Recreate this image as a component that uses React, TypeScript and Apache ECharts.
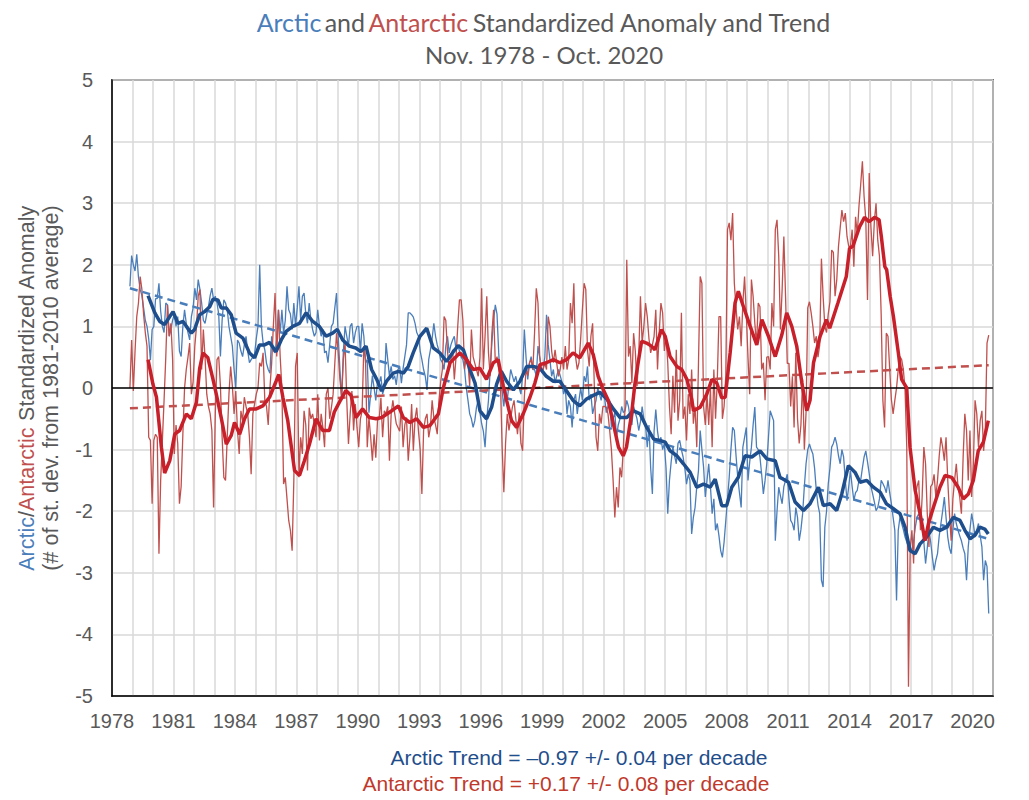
import React, { useEffect, useRef } from "react";
import * as echarts from "echarts";

// Monthly values start in Nov 1978 and end in Oct 2020
const START_YEAR = 1978;
const START_MONTH = 10; // November (0-based)

const arcticMonthly: number[] = [
  1.65, 2.15, // 1978 Nov-Dec
  2.0, 1.9, 2.17, 1.8, 1.6, 1.5, 1.3, 1.1, 1.0, 0.8, 0.45, 0.95, // 1979
  1.0, 1.45, 1.45, 1.7, 1.25, 1.0, 0.9, 1.38, 1.35, 0.84, 0.95, 1.1, // 1980
  1.2, 1.0, 1.16, 0.6, 0.51, 1.0, 1.27, 1.05, 0.9, 0.78, 1.16, 1.3, // 1981
  1.62, 1.43, 1.76, 1.6, 1.38, 1.1, 1.05, 1.2, 1.32, 1.5, 1.62, 1.43, // 1982
  1.49, 1.38, 1.2, 0.51, 1.1, 1.43, 1.38, 1.27, 1.0, 0.84, 0.68, 0.3, // 1983
  0.0, 0.78, 0.73, 0.6, 0.51, 0.7, 0.84, 0.6, 0.41, 0.46, 0.5, 0.55, // 1984
  0.8, 1.0, 2.0, 1.0, 0.73, 0.62, 0.4, 0.3, 0.24, 0.84, 0.6, 0.57, // 1985
  0.8, 1.27, 0.89, 1.27, 0.89, 1.1, 1.65, 1.27, 1.2, 0.95, 1.38, 1.0, // 1986
  1.3, 1.65, 1.1, 1.49, 1.54, 1.2, 1.05, 1.38, 1.1, 0.95, 0.84, 0.9, // 1987
  1.27, 1.0, 0.84, 0.95, 0.57, 0.6, 0.41, 0.7, 1.0, 1.05, 1.3, 1.54, // 1988
  0.84, 0.3, -0.2, 0.6, 1.0, 0.84, 0.68, 1.0, 1.05, 0.73, 0.9, 1.0, // 1989
  1.0, 0.57, 1.05, 0.84, 0.41, 0.46, -0.4, -0.1, 0.2, 0.0, -0.2, 0.1, // 1990
  0.08, 0.19, -0.1, 0.0, 0.73, 0.46, 0.19, 0.35, 0.14, 0.2, 0.05, 0.3, // 1991
  0.35, 0.08, 0.32, 0.51, 0.7, 1.22, 1.22, 1.19, 1.15, 1.05, 0.9, 0.84, // 1992
  0.6, 0.46, 0.3, 0.19, -0.03, 0.46, 0.62, 0.8, 1.05, 0.84, 0.7, 0.6, // 1993
  0.46, 0.41, 0.3, 0.68, 0.84, 0.57, 0.7, 0.78, 0.84, 0.62, 0.7, 0.6, // 1994
  0.5, 0.46, 0.3, 0.0, -0.2, -0.42, -0.5, -0.64, -0.53, -0.31, -0.2, -0.4, // 1995
  -0.58, -0.7, -0.96, -0.5, -0.2, 0.3, 0.73, 1.1, 1.35, 1.2, 0.57, 0.1, // 1996
  -0.04, -0.3, 0.0, -0.2, 0.06, 0.3, 0.2, 0.1, 0.19, 0.05, 0.0, -0.1, // 1997
  0.2, 0.95, 0.5, 0.14, 0.4, 0.51, 0.3, 0.3, 0.19, 0.68, 0.5, 0.3, // 1998
  0.3, 0.5, 1.19, 0.7, 0.46, 0.19, 0.3, 0.08, 0.2, 0.3, 0.2, 0.1, // 1999
  -0.1, 0.0, -0.42, -0.2, -0.3, -0.64, -0.2, -0.1, -0.42, -0.2, 0.0, -0.2, // 2000
  0.19, 0.1, 0.35, -0.2, -0.1, -0.42, -0.3, -0.2, 0.0, -0.1, -0.2, 0.0, // 2001
  -0.15, -0.4, -0.3, -0.2, -0.64, -0.5, -0.4, -0.8, -0.6, -0.5, -0.3, -0.4, // 2002
  -0.37, -0.2, -0.3, -0.5, -0.6, -0.3, -0.4, -0.5, -0.69, -0.55, -0.3, -0.5, // 2003
  -0.6, -0.96, -0.6, -1.3, -1.72, -0.7, -0.35, -0.7, -0.9, -0.8, -1.0, -0.9, // 2004
  -1.3, -2.04, -1.5, -1.2, -0.96, -1.1, -1.23, -0.9, -0.85, -1.0, -1.12, -1.3, // 2005
  -1.56, -1.4, -1.5, -2.37, -2.1, -1.94, -1.6, -1.34, -0.69, -1.0, -1.29, -1.77, // 2006
  -1.5, -1.23, -1.6, -2.04, -1.8, -2.31, -2.2, -2.4, -2.64, -2.75, -2.5, -2.15, // 2007
  -1.8, -1.45, -1.0, -0.64, -0.69, -1.1, -1.45, -1.7, -1.94, -0.96, -0.8, -0.64, // 2008
  -1.5, -1.2, -0.96, -0.6, -0.31, -0.96, -1.0, -1.12, -1.4, -1.72, -1.5, -1.23, // 2009
  -0.8, -0.37, -0.45, -0.53, -2.48, -2.0, -1.61, -1.75, -1.88, -1.6, -1.5, -1.4, // 2010
  -1.8, -2.15, -2.2, -2.31, -1.94, -2.1, -2.48, -2.3, -2.04, -1.6, -1.23, -1.0, // 2011
  -0.91, -1.0, -1.07, -1.3, -1.66, -1.9, -2.04, -3.12, -3.23, -2.26, -2.0, -1.56, // 2012
  -1.3, -0.96, -0.9, -0.8, -0.91, -1.1, -1.23, -1.0, -1.12, -1.5, -1.83, -1.6, // 2013
  -1.34, -1.6, -1.83, -1.7, -1.66, -1.5, -1.5, -1.3, -1.12, -1.02, -1.2, -1.39, // 2014
  -1.6, -1.72, -1.85, -1.99, -1.94, -1.8, -1.5, -1.55, -1.61, -1.7, -1.5, -1.7, // 2015
  -1.88, -2.1, -2.31, -3.45, -2.31, -2.1, -2.2, -2.3, -2.42, -2.5, -2.58, -2.6, // 2016
  -2.64, -2.48, -2.26, -2.1, -2.04, -2.15, -2.26, -2.5, -2.85, -2.6, -2.31, -2.5, // 2017
  -2.75, -2.96, -2.8, -2.69, -2.4, -2.2, -2.0, -1.77, -2.1, -2.42, -2.6, -2.69, // 2018
  -2.3, -2.04, -2.2, -2.31, -2.4, -2.48, -2.6, -2.69, -3.12, -2.58, -2.3, -2.04, // 2019
  -2.2, -2.42, -2.3, -2.2, -2.4, -2.58, -3.12, -2.8, -2.9, -3.66, // 2020 Jan-Oct
];

const antarcticMonthly: number[] = [
  0.0, 0.78, // 1978 Nov-Dec
  -0.05, 0.6, 1.16, 1.38, 1.81, 1.6, 1.2, 0.9, 0.68, -0.8, -0.85, -1.88, // 1979
  -0.85, -0.75, -0.8, -2.69, -1.5, -0.85, -0.2, 0.5, 1.35, 0.84, 1.05, 0.46, // 1980
  -1.07, -0.6, -0.9, -1.88, -1.6, -0.75, 0.0, 0.3, 0.5, 0.73, -0.1, 0.1, // 1981
  0.68, 1.0, 1.49, 1.6, 0.3, 0.95, 0.5, -0.1, -0.3, -0.42, -0.69, -1.94, // 1982
  -0.42, 0.46, 0.51, 0.03, -0.8, -1.45, -1.5, -0.8, -0.1, 0.35, 0.03, -0.42, // 1983
  -0.05, -0.69, -1.07, -0.37, -0.53, -0.15, -0.3, -0.42, -0.8, -1.4, -0.42, -0.26, // 1984
  -0.1, 0.0, 0.41, 0.35, 0.57, -0.2, -0.3, -0.6, 0.0, 0.4, 1.0, 1.54, // 1985
  0.51, 1.27, 0.51, 0.0, -1.56, -1.45, -1.8, -2.15, -2.31, -2.64, -1.5, 0.35, // 1986
  0.57, -1.45, -0.8, -1.07, -0.37, -0.6, -1.34, -0.32, -0.5, -0.42, -0.6, -0.8, // 1987
  -0.1, -0.85, -0.42, -0.64, -0.96, -0.1, 0.0, -0.5, -0.32, -0.1, 0.4, 0.89, // 1988
  0.57, 0.14, -0.15, 0.46, 0.73, -0.2, -0.91, -0.42, -0.05, -0.69, -0.26, -0.64, // 1989
  -0.96, -0.5, -0.37, 0.68, 0.46, -0.96, -0.48, -0.8, -1.18, -0.75, -1.13, -0.53, // 1990
  -0.5, -0.16, -0.8, -0.37, -0.42, -0.3, -1.18, -0.42, -0.2, -0.4, -0.58, -0.64, // 1991
  -0.7, -0.3, -0.96, -0.6, -0.48, -1.18, -0.8, -0.26, -1.02, -0.5, -0.32, -0.7, // 1992
  -1.0, -1.72, -0.69, -0.5, -0.42, -0.8, -0.64, -0.2, -0.48, -0.6, -0.75, -0.2, // 1993
  0.1, 0.3, 1.16, 1.1, 0.6, 0.3, 0.46, 0.62, 0.14, 0.5, 1.0, 1.43, // 1994
  1.43, 1.1, 0.3, 0.51, 0.4, 0.03, 0.95, 0.51, 0.4, 0.3, 0.19, 0.5, // 1995
  1.62, 0.3, 0.84, 1.49, 0.57, 0.19, 0.89, 1.27, 0.41, 0.51, 0.3, 0.1, // 1996
  -0.96, -1.69, -0.9, -0.42, -0.69, -0.5, -0.31, -0.2, -0.5, -0.75, -0.4, -0.9, // 1997
  -1.02, -0.15, 0.3, 0.2, 0.41, 0.46, 0.3, 0.9, 1.62, 1.38, 0.51, 0.3, // 1998
  0.3, 0.41, 0.3, 1.16, 1.0, 0.6, 0.41, 0.62, 0.4, 0.19, 0.3, 0.5, // 1999
  0.3, 0.68, 0.3, 0.46, 1.38, 1.05, 1.7, 0.51, 0.3, 0.41, 0.8, 1.27, // 2000
  1.7, 1.6, 0.62, 0.35, 0.84, 1.05, 0.03, -0.8, -1.02, -0.42, -0.58, -0.3, // 2001
  -0.3, -0.31, -0.42, -0.69, -1.0, -1.5, -2.1, -1.61, -1.94, -1.29, -1.45, -0.96, // 2002
  -0.31, 2.08, 0.51, 0.68, 0.08, 0.89, 0.6, 0.03, 0.5, 1.49, 0.73, 1.0, // 2003
  1.38, 1.16, 0.8, 0.57, 0.7, 0.84, 1.27, 0.3, 0.9, 1.38, 1.22, 0.6, // 2004
  0.84, 0.41, -0.3, -0.75, 0.2, -0.4, 0.62, -0.53, -0.2, 1.22, -0.5, -0.3, // 2005
  -0.85, -0.1, -0.42, 0.3, -0.58, -0.3, -0.96, 0.4, 1.81, 1.7, -0.3, -0.6, // 2006
  -0.1, -0.6, 0.0, -0.96, 0.3, -0.5, 0.1, 1.16, 1.16, -0.5, -0.3, 0.2, // 2007
  2.57, 2.68, 2.4, 2.84, 1.7, 1.3, 0.95, 1.16, 0.68, 1.38, 1.81, 1.2, // 2008
  0.5, -0.1, 1.76, 1.49, 1.05, 0.7, 1.38, 1.32, 0.3, 0.41, -0.2, 0.5, // 2009
  0.51, 0.3, 1.38, 1.0, 2.57, 2.73, 2.14, 0.95, 1.6, 2.46, 1.49, 0.4, // 2010
  0.4, -0.3, 0.19, -0.64, 0.57, -0.5, -0.9, -0.6, 0.14, -1.0, -0.4, 1.3, // 2011
  1.4, 1.22, 1.0, 0.73, 0.84, 0.5, 0.7, 2.1, 1.49, 1.0, 0.9, 1.2, // 2012
  1.4, 2.24, 2.2, 1.49, 1.76, 2.3, 2.6, 2.89, 2.7, 2.84, 2.46, 2.3, // 2013
  2.3, 2.57, 1.97, 2.78, 2.5, 2.95, 3.3, 3.68, 3.11, 2.73, 1.43, 3.49, // 2014
  2.62, 2.14, 2.7, 3.0, 2.4, 2.14, 1.2, -0.2, -0.64, 0.89, 0.84, 0.3, // 2015
  -0.19, -0.42, -0.2, 0.0, 0.3, 0.51, 0.46, 0.3, -0.04, -0.96, -4.85, -2.6, // 2016
  -2.31, -2.85, -1.77, -1.6, -1.5, -2.31, -1.77, -0.96, -1.23, -2.04, -2.58, -1.6, // 2017
  -1.56, -1.4, -1.77, -1.5, -1.1, -0.8, -0.96, -1.18, -0.8, -1.5, -2.04, -2.48, // 2018
  -1.8, -1.5, -1.23, -1.6, -1.77, -2.04, -1.13, -0.42, -0.69, -1.5, -0.69, -1.77, // 2019
  -1.23, -0.2, -0.42, -0.96, -0.53, -0.37, -1.02, -0.69, 0.73, 0.86, // 2020 Jan-Oct
];

// 12-month running means, [decimal year, value]
const arcticMean: [number, number][] = [
  [1979.76, 1.5], [1980.09, 1.22], [1980.33, 1.08], [1980.57, 1.03], [1980.82, 1.16], [1980.98, 1.24],
  [1981.22, 1.05], [1981.47, 1.08], [1981.63, 1.0], [1981.87, 0.89], [1982.03, 0.95], [1982.28, 1.19],
  [1982.52, 1.24], [1982.77, 1.32], [1982.93, 1.44], [1983.17, 1.43], [1983.33, 1.3], [1983.58, 1.3],
  [1983.82, 1.19], [1984.06, 0.89], [1984.39, 0.81], [1984.71, 0.57], [1984.96, 0.49], [1985.2, 0.7],
  [1985.44, 0.7], [1985.69, 0.74], [1986.01, 0.59], [1986.26, 0.78], [1986.5, 0.92], [1986.82, 1.0],
  [1987.15, 1.05], [1987.47, 1.22], [1987.8, 1.08], [1988.12, 1.0], [1988.45, 0.84], [1988.77, 0.89],
  [1989.0, 0.95], [1989.26, 0.78], [1989.58, 0.68], [1989.9, 0.65], [1990.15, 0.59], [1990.4, 0.68],
  [1990.67, 0.3], [1990.92, 0.14], [1991.16, -0.05], [1991.4, 0.11], [1991.73, 0.24], [1991.98, 0.27],
  [1992.22, 0.24], [1992.46, 0.35], [1992.7, 0.57], [1993.03, 0.84], [1993.36, 0.97], [1993.68, 0.65],
  [1994.0, 0.57], [1994.33, 0.43], [1994.66, 0.59], [1994.9, 0.69], [1995.15, 0.62], [1995.47, 0.3],
  [1995.72, 0.08], [1995.96, -0.37], [1996.28, -0.5], [1996.53, -0.31], [1996.77, 0.06], [1997.0, 0.27],
  [1997.26, 0.11], [1997.59, -0.03], [1997.91, 0.11], [1998.24, 0.35], [1998.56, 0.35], [1998.89, 0.32],
  [1999.2, 0.19], [1999.54, 0.11], [1999.86, 0.11], [2000.19, -0.05], [2000.5, -0.2], [2000.83, -0.29],
  [2001.16, -0.18], [2001.49, -0.12], [2001.81, -0.07], [2002.15, -0.18], [2002.47, -0.34], [2002.8, -0.48],
  [2003.13, -0.48], [2003.45, -0.37], [2003.78, -0.42], [2004.1, -0.64], [2004.44, -0.83], [2004.74, -0.85],
  [2005.0, -0.88], [2005.24, -1.02], [2005.57, -1.1], [2005.89, -1.23], [2006.22, -1.37], [2006.54, -1.61],
  [2006.87, -1.56], [2007.2, -1.61], [2007.44, -1.48], [2007.76, -1.91], [2008.0, -1.91], [2008.25, -1.61],
  [2008.57, -1.45], [2008.9, -1.1], [2009.23, -1.12], [2009.63, -1.02], [2009.96, -1.15], [2010.37, -1.18],
  [2010.6, -1.45], [2011.02, -1.53], [2011.34, -1.85], [2011.75, -1.99], [2012.07, -1.88], [2012.48, -1.61],
  [2012.72, -1.91], [2013.05, -1.88], [2013.37, -1.99], [2013.62, -1.72], [2013.94, -1.26], [2014.27, -1.37],
  [2014.51, -1.53], [2014.84, -1.5], [2015.16, -1.61], [2015.49, -1.69], [2015.8, -1.88], [2016.14, -1.96],
  [2016.46, -2.04], [2016.71, -2.26], [2016.95, -2.64], [2017.2, -2.69], [2017.44, -2.53], [2017.76, -2.42],
  [2018.09, -2.26], [2018.41, -2.31], [2018.74, -2.26], [2019.06, -2.1], [2019.39, -2.15], [2019.63, -2.31],
  [2019.88, -2.45], [2020.12, -2.39], [2020.36, -2.26], [2020.6, -2.29], [2020.77, -2.37],
];

const antarcticMean: [number, number][] = [
  [1979.76, 0.46], [1980.0, 0.06], [1980.17, -0.15], [1980.41, -0.96], [1980.57, -1.38], [1980.82, -1.18],
  [1981.06, -0.75], [1981.3, -0.69], [1981.63, -0.42], [1981.87, -0.5], [1982.12, -0.23], [1982.28, 0.32],
  [1982.44, 0.57], [1982.68, 0.49], [1982.93, 0.14], [1983.09, -0.1], [1983.33, -0.48], [1983.58, -0.91],
  [1983.82, -0.77], [1983.98, -0.56], [1984.23, -0.75], [1984.47, -0.5], [1984.71, -0.34], [1985.04, -0.34],
  [1985.36, -0.29], [1985.69, -0.15], [1986.01, 0.11], [1986.14, 0.22], [1986.34, -0.15], [1986.58, -0.53],
  [1986.91, -1.34], [1987.15, -1.42], [1987.39, -1.18], [1987.64, -0.91], [1987.96, -0.5], [1988.29, -0.69],
  [1988.61, -0.69], [1988.85, -0.39], [1989.1, -0.23], [1989.42, -0.04], [1989.67, -0.12], [1989.9, -0.48],
  [1990.23, -0.34], [1990.56, -0.48], [1990.89, -0.5], [1991.16, -0.48], [1991.57, -0.39], [1991.98, -0.29],
  [1992.22, -0.48], [1992.54, -0.56], [1992.87, -0.5], [1993.2, -0.64], [1993.52, -0.61], [1993.93, -0.42],
  [1994.17, 0.0], [1994.5, 0.41], [1994.98, 0.57], [1995.31, 0.46], [1995.63, 0.3], [1995.96, 0.32],
  [1996.28, 0.14], [1996.61, 0.41], [1996.85, 0.46], [1997.1, 0.03], [1997.26, -0.2], [1997.5, -0.53],
  [1997.75, -0.64], [1998.07, -0.42], [1998.4, -0.15], [1998.64, 0.08], [1998.89, 0.38], [1999.2, 0.41],
  [1999.54, 0.46], [1999.86, 0.41], [2000.19, 0.46], [2000.5, 0.57], [2000.83, 0.49], [2001.24, 0.73],
  [2001.49, 0.54], [2001.73, 0.19], [2001.98, -0.03], [2002.22, -0.2], [2002.47, -0.58], [2002.72, -0.96],
  [2002.95, -1.1], [2003.11, -0.96], [2003.36, -0.42], [2003.52, 0.06], [2003.68, 0.41], [2003.85, 0.76],
  [2004.09, 0.73], [2004.33, 0.68], [2004.5, 0.62], [2004.82, 0.95], [2005.0, 0.84], [2005.24, 0.51],
  [2005.57, 0.35], [2005.81, 0.3], [2006.06, 0.14], [2006.3, -0.19], [2006.38, -0.37], [2006.71, -0.31],
  [2007.03, -0.1], [2007.28, 0.14], [2007.52, 0.08], [2007.76, -0.16], [2007.93, -0.15], [2008.17, 0.57],
  [2008.41, 1.38], [2008.57, 1.57], [2008.82, 1.32], [2009.15, 1.0], [2009.47, 0.7], [2009.72, 1.11],
  [2010.04, 0.84], [2010.37, 0.51], [2010.69, 0.86], [2010.93, 1.22], [2011.18, 1.0], [2011.42, 0.68],
  [2011.67, 0.08], [2011.91, -0.37], [2012.07, -0.2], [2012.24, 0.41], [2012.56, 0.84], [2012.87, 1.11],
  [2013.03, 0.97], [2013.43, 1.38], [2013.84, 1.81], [2014.0, 2.27], [2014.16, 2.3], [2014.49, 2.62],
  [2014.73, 2.77], [2014.95, 2.7], [2015.22, 2.77], [2015.44, 2.73], [2015.55, 2.46], [2015.72, 1.97],
  [2015.81, 1.92], [2015.98, 1.49], [2016.14, 1.16], [2016.38, 0.57], [2016.54, 0.14], [2016.79, 0.0],
  [2016.95, -0.96], [2017.2, -1.66], [2017.44, -2.04], [2017.68, -2.48], [2017.85, -2.2], [2018.09, -1.94],
  [2018.41, -1.61], [2018.66, -1.42], [2018.98, -1.45], [2019.3, -1.61], [2019.55, -1.8], [2019.8, -1.72],
  [2020.04, -1.5], [2020.28, -1.02], [2020.53, -0.88], [2020.77, -0.53],
];

// Linear trends, endpoints
const arcticTrend: [number, number][] = [[1978.875, 1.62], [2020.79, -2.45]];
const antarcticTrend: [number, number][] = [[1978.875, -0.33], [2020.79, 0.37]];

const X_MIN = 1978;
const X_MAX = 2021;
const X_LABEL_STEP = 3;
const Y_MIN = -5;
const Y_MAX = 5;

const titleLine2 = "Nov. 1978 - Oct. 2020";
const arcticTrendText = "Arctic Trend = \u20130.97 +/- 0.04 per decade";
const antarcticTrendText = "Antarctic Trend = +0.17 +/- 0.08 per decade";

const BLUE = "#4a7ebb";
const RED = "#c0504d";
const DARK_BLUE = "#1f4e8c";
const DARK_RED = "#c8202a";
const GRAY = "#595959";

function toPoints(vals: number[]): [number, number][] {
  return vals.map((v, i) => {
    const m = START_MONTH + i;
    return [START_YEAR + m / 12 + 1 / 24, v];
  });
}

export default function App() {
  const ref = useRef<HTMLDivElement>(null);

  useEffect(() => {
    if (!ref.current) return;
    const chart = echarts.init(ref.current, undefined, { renderer: "svg" });
    const arial = "'Liberation Sans', Arial, sans-serif";
    const titleFont = "Lato, 'Open Sans', sans-serif";

    chart.setOption({
      animation: false,
      backgroundColor: "#ffffff",
      grid: {
        left: 112,
        top: 80,
        width: 881,
        height: 616,
        show: true,
        borderColor: "#000",
        borderWidth: 1.5,
      },
      xAxis: {
        type: "value",
        min: X_MIN,
        max: X_MAX,
        interval: 1,
        axisLine: { show: true, onZero: false, lineStyle: { color: "#000", width: 1.5 } },
        axisTick: { show: false },
        splitLine: { show: true, lineStyle: { color: "#d9d9d9", width: 1.5 } },
        axisLabel: {
          fontSize: 20,
          color: GRAY,
          fontFamily: arial,
          margin: 15,
          formatter: (v: number) => {
            const y = Math.round(v);
            return (y - X_MIN) % X_LABEL_STEP === 0 ? String(y) : "";
          },
        },
      },
      yAxis: {
        type: "value",
        min: Y_MIN,
        max: Y_MAX,
        interval: 1,
        axisLine: { show: true, lineStyle: { color: "#000", width: 1.5 } },
        axisTick: { show: false },
        splitLine: { show: true, lineStyle: { color: "#d9d9d9", width: 1.5 } },
        axisLabel: { fontSize: 20, color: GRAY, fontFamily: arial, margin: 19 },
      },
      series: [
        {
          name: "Arctic monthly",
          type: "line",
          data: toPoints(arcticMonthly),
          showSymbol: false,
          symbol: "none",
          silent: true,
          lineStyle: { color: BLUE, width: 1.3 },
          z: 2,
        },
        {
          name: "Antarctic monthly",
          type: "line",
          data: toPoints(antarcticMonthly),
          showSymbol: false,
          symbol: "none",
          silent: true,
          lineStyle: { color: RED, width: 1.3 },
          z: 3,
          markLine: {
            silent: true,
            symbol: ["none", "none"],
            label: { show: false },
            lineStyle: { color: "#000", width: 1.5, type: "solid" },
            data: [{ yAxis: 0 }],
          },
        },
        {
          name: "Arctic trend",
          type: "line",
          data: arcticTrend,
          showSymbol: false,
          symbol: "none",
          silent: true,
          lineStyle: { color: BLUE, width: 2.5, type: [8, 5] },
          z: 4,
        },
        {
          name: "Antarctic trend",
          type: "line",
          data: antarcticTrend,
          showSymbol: false,
          symbol: "none",
          silent: true,
          lineStyle: { color: RED, width: 2.5, type: [8, 5] },
          z: 4,
        },
        {
          name: "Arctic 12-month mean",
          type: "line",
          data: arcticMean,
          showSymbol: false,
          symbol: "none",
          silent: true,
          lineStyle: { color: DARK_BLUE, width: 3.5 },
          z: 5,
        },
        {
          name: "Antarctic 12-month mean",
          type: "line",
          data: antarcticMean,
          showSymbol: false,
          symbol: "none",
          silent: true,
          lineStyle: { color: DARK_RED, width: 3.5 },
          z: 6,
        },
      ],
      graphic: [
        {
          type: "text",
          x: 544,
          y: 22,
          style: {
            text: "{a|Arctic} {g|and} {r|Antarctic} {g|Standardized Anomaly and Trend}",
            align: "center",
            verticalAlign: "middle",
            rich: {
              a: { fill: BLUE, fontSize: 25, fontFamily: titleFont },
              r: { fill: RED, fontSize: 25, fontFamily: titleFont },
              g: { fill: GRAY, fontSize: 25, fontFamily: titleFont },
            },
          },
        },
        {
          type: "text",
          x: 544,
          y: 54,
          style: {
            text: titleLine2,
            fill: GRAY,
            fontSize: 24,
            fontFamily: titleFont,
            align: "center",
            verticalAlign: "middle",
          },
        },
        {
          type: "text",
          x: 27,
          y: 388,
          rotation: Math.PI / 2,
          style: {
            text: "{a|Arctic}{g|/}{r|Antarctic}{g| Standardized Anomaly}",
            align: "center",
            verticalAlign: "middle",
            rich: {
              a: { fill: BLUE, fontSize: 21.5, fontFamily: arial },
              r: { fill: RED, fontSize: 21.5, fontFamily: arial },
              g: { fill: GRAY, fontSize: 21.5, fontFamily: arial },
            },
          },
        },
        {
          type: "text",
          x: 51,
          y: 388,
          rotation: Math.PI / 2,
          style: {
            text: "(# of st. dev. from 1981-2010 average)",
            fill: GRAY,
            fontSize: 21.5,
            fontFamily: arial,
            align: "center",
            verticalAlign: "middle",
          },
        },
        {
          type: "text",
          x: 579,
          y: 757,
          style: {
            text: arcticTrendText,
            fill: DARK_BLUE,
            fontSize: 21,
            fontFamily: arial,
            align: "center",
            verticalAlign: "middle",
          },
        },
        {
          type: "text",
          x: 566,
          y: 783,
          style: {
            text: antarcticTrendText,
            fill: "#c0392b",
            fontSize: 21,
            fontFamily: arial,
            align: "center",
            verticalAlign: "middle",
          },
        },
      ],
    });

    return () => {
      chart.dispose();
    };
  }, []);

  return (
    <div
      ref={ref}
      style={{ position: "absolute", left: 0, top: 0, width: 1029, height: 800, background: "#fff" }}
    />
  );
}
